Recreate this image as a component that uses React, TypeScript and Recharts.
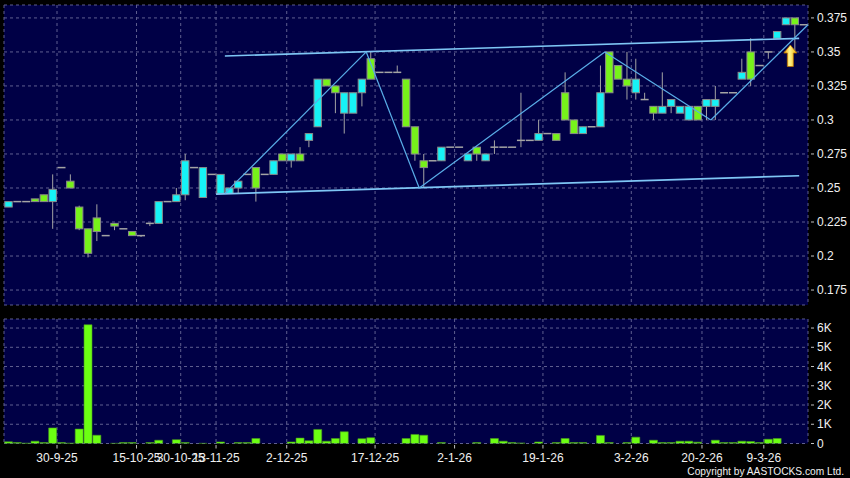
import React from 'react';
import { ComposedChart, Bar, XAxis, YAxis, CartesianGrid, ReferenceLine, ReferenceDot } from 'recharts';

// daily prices, one entry per trading slot (91 slots)
const opens = [
  0.236, 0.24, 0.24, 0.242, 0.245, 0.24, 0.265, 0.255, 0.236, 0.22,
  0.228, 0.215, 0.224, 0.22, 0.218, 0.215, 0.224, 0.224, 0.24, 0.24,
  0.245, 0.265, 0.243, 0.26, 0.246, 0.246, 0.25, 0.26, 0.265, 0.26,
  0.26, 0.275, 0.27, 0.275, 0.285, 0.295, 0.33, 0.325, 0.305, 0.305,
  0.32, 0.345, 0.335, 0.335, 0.335, 0.33, 0.295, 0.27, 0.27, 0.27,
  0.28, 0.28, 0.27, 0.28, 0.27, 0.28, 0.28, 0.28, 0.285, 0.285,
  0.285, 0.29, 0.29, 0.32, 0.3, 0.29, 0.295, 0.295, 0.35, 0.34,
  0.33, 0.32, 0.315, 0.31, 0.305, 0.31, 0.305, 0.3, 0.31, 0.31,
  0.31, 0.32, 0.32, 0.33, 0.35, 0.34, 0.35, 0.36, 0.37, 0.375,
  0.37,
];
const highs = [
  0.24, 0.24, 0.24, 0.242, 0.245, 0.26, 0.265, 0.26, 0.237, 0.22,
  0.238, 0.215, 0.224, 0.22, 0.218, 0.215, 0.224, 0.24, 0.24, 0.25,
  0.275, 0.265, 0.265, 0.26, 0.26, 0.25, 0.255, 0.26, 0.265, 0.26,
  0.27, 0.275, 0.275, 0.28, 0.29, 0.33, 0.33, 0.325, 0.32, 0.32,
  0.33, 0.35, 0.335, 0.335, 0.34, 0.33, 0.295, 0.275, 0.27, 0.28,
  0.28, 0.28, 0.275, 0.28, 0.275, 0.285, 0.28, 0.28, 0.32, 0.285,
  0.3, 0.29, 0.29, 0.335, 0.3, 0.295, 0.295, 0.34, 0.35, 0.34,
  0.35, 0.345, 0.32, 0.31, 0.335, 0.315, 0.31, 0.31, 0.31, 0.315,
  0.325, 0.32, 0.32, 0.345, 0.36, 0.34, 0.35, 0.365, 0.375, 0.375,
  0.37,
];
const lows = [
  0.236, 0.24, 0.24, 0.24, 0.24, 0.22, 0.265, 0.25, 0.219, 0.199,
  0.211, 0.215, 0.219, 0.22, 0.215, 0.214, 0.222, 0.224, 0.24, 0.24,
  0.241, 0.265, 0.243, 0.26, 0.246, 0.246, 0.246, 0.26, 0.24, 0.26,
  0.26, 0.27, 0.265, 0.27, 0.28, 0.295, 0.325, 0.305, 0.29, 0.305,
  0.31, 0.33, 0.335, 0.335, 0.335, 0.295, 0.27, 0.25, 0.27, 0.27,
  0.28, 0.28, 0.27, 0.27, 0.27, 0.275, 0.28, 0.28, 0.28, 0.285,
  0.285, 0.29, 0.285, 0.3, 0.29, 0.29, 0.295, 0.295, 0.32, 0.33,
  0.315, 0.315, 0.315, 0.3, 0.305, 0.305, 0.305, 0.3, 0.3, 0.3,
  0.3, 0.32, 0.32, 0.33, 0.325, 0.34, 0.345, 0.36, 0.37, 0.35,
  0.37,
];
const closes = [
  0.24, 0.24, 0.24, 0.24, 0.24, 0.249, 0.265, 0.25, 0.22, 0.202,
  0.218, 0.215, 0.222, 0.22, 0.215, 0.215, 0.224, 0.24, 0.24, 0.245,
  0.27, 0.265, 0.265, 0.26, 0.26, 0.25, 0.255, 0.26, 0.25, 0.26,
  0.27, 0.27, 0.275, 0.27, 0.29, 0.33, 0.325, 0.32, 0.32, 0.32,
  0.33, 0.33, 0.335, 0.335, 0.335, 0.295, 0.275, 0.265, 0.27, 0.28,
  0.28, 0.28, 0.275, 0.275, 0.275, 0.28, 0.28, 0.28, 0.285, 0.285,
  0.29, 0.29, 0.285, 0.3, 0.29, 0.295, 0.295, 0.32, 0.32, 0.33,
  0.325, 0.33, 0.315, 0.305, 0.31, 0.315, 0.31, 0.31, 0.3, 0.315,
  0.315, 0.32, 0.32, 0.335, 0.33, 0.34, 0.35, 0.365, 0.375, 0.37,
  0.37,
];
const volumes = [
  85, 50, 20, 120, 50, 810, 50, 20, 750, 6170,
  430, 0, 10, 50, 50, 0, 50, 170, 0, 200,
  50, 0, 10, 0, 80, 0, 50, 50, 260, 0,
  0, 0, 80, 280, 140, 730, 120, 260, 610, 0,
  250, 300, 0, 0, 0, 260, 470, 430, 0, 50,
  0, 0, 0, 50, 0, 260, 120, 50, 30, 0,
  80, 0, 50, 260, 50, 50, 0, 420, 50, 0,
  50, 330, 0, 170, 50, 50, 120, 120, 70, 0,
  170, 50, 50, 120, 100, 50, 220, 260, 0, 0,
  0,
];

// date ticks (slot index -> label)
const tickSlots = [6, 15, 20, 24, 32, 42, 51, 61, 71, 79, 86];
const tickLabels = ['30-9-25', '15-10-25', '30-10-25', '13-11-25', '2-12-25', '17-12-25', '2-1-26', '19-1-26', '3-2-26', '20-2-26', '9-3-26'];
const priceTicks = [0.175, 0.2, 0.225, 0.25, 0.275, 0.3, 0.325, 0.35, 0.375];
const volTicks = [0, 1000, 2000, 3000, 4000, 5000, 6000];

// drawn trend annotations (slot, price)
const zigzag = [
  { x: 25, y: 0.246 }, { x: 41, y: 0.35 }, { x: 47, y: 0.25 },
  { x: 68, y: 0.35 }, { x: 80, y: 0.3 }, { x: 91, y: 0.37 },
];
const upperChannel = [{ x: 25, y: 0.347 }, { x: 90, y: 0.36 }];
const lowerChannel = [{ x: 24, y: 0.2455 }, { x: 90, y: 0.259 }];
const arrowMark = { x: 89, y: 0.347 };

const SLOTS = opens.length;
const font = "'Liberation Sans', Arial, sans-serif";
const NAVY = '#000046';
const GRID = '#5f5f90';

const candleRows = opens.map((o, i) => ({
  d: i, o, h: highs[i], l: lows[i], c: closes[i], range: [lows[i], highs[i]],
}));
const volRows = volumes.map((v, i) => ({ d: i, v }));

function Candle(props: any) {
  const { x, y, width, height, payload } = props;
  const { o, h, l, c } = payload;
  const top = Math.min(y, y + height);
  const span = Math.abs(height);
  const cx = x + width / 2;
  if (h === l) {
    return <line x1={x + 0.5} x2={x + width - 0.5} y1={top} y2={top} stroke="#a4a4a4" strokeWidth={1.5} />;
  }
  const k = span / (h - l);
  const py = (v: number) => top + (h - v) * k;
  const wick = <line x1={cx} x2={cx} y1={top} y2={top + span} stroke="#a4a4a4" strokeWidth={1} />;
  if (o === c) {
    return (
      <g>
        {wick}
        <line x1={x + 0.5} x2={x + width - 0.5} y1={py(o)} y2={py(o)} stroke="#a4a4a4" strokeWidth={1.5} />
      </g>
    );
  }
  const bt = py(Math.max(o, c));
  const bb = py(Math.min(o, c));
  return (
    <g>
      {wick}
      <rect x={x + 0.8} y={bt} width={width - 1.6} height={bb - bt} fill={c > o ? '#16f2f6' : '#77f21a'} stroke="#8a8a8a" strokeWidth={1} />
    </g>
  );
}

function PriceTick(props: any) {
  const { x, y, payload } = props;
  return (
    <g>
      <line x1={x + 3} x2={x + 6} y1={y} y2={y} stroke="#c0c0c0" />
      <text x={x + 9} y={y + 4.2} fill="#f0f0f0" fontSize={12} fontFamily={font}>
        {String(Number(payload.value.toFixed(3)))}
      </text>
    </g>
  );
}

function VolTick(props: any) {
  const { x, y, payload } = props;
  return (
    <g>
      <line x1={x + 3} x2={x + 6} y1={y} y2={y} stroke="#c0c0c0" />
      <text x={x + 9} y={y + 4.2} fill="#f0f0f0" fontSize={12} fontFamily={font}>
        {payload.value === 0 ? '0' : `${payload.value / 1000}K`}
      </text>
    </g>
  );
}

function DateTick(props: any) {
  const { x, y, payload } = props;
  const label = tickLabels[tickSlots.indexOf(payload.value)];
  return (
    <g>
      <line x1={x} x2={x} y1={y + 1.5} y2={y + 5} stroke="#c0c0c0" />
      <text x={x} y={y + 18} textAnchor="middle" fill="#f0f0f0" fontSize={12} fontFamily={font}>
        {label}
      </text>
    </g>
  );
}

function UpArrow(props: any) {
  const { cx, cy } = props;
  const d = `M${cx},${cy - 11} L${cx + 6.5},${cy - 3} L${cx + 3},${cy - 3} L${cx + 3},${cy + 10.5} L${cx - 3},${cy + 10.5} L${cx - 3},${cy - 3} L${cx - 6.5},${cy - 3} Z`;
  return (
    <g>
      <defs>
        <linearGradient id="arrowFill" x1="0" y1="0" x2="1" y2="0">
          <stop offset="0%" stopColor="#f2a400" />
          <stop offset="45%" stopColor="#fff48c" />
          <stop offset="100%" stopColor="#f0b000" />
        </linearGradient>
      </defs>
      <path d={d} fill="url(#arrowFill)" stroke="#b87000" strokeWidth={0.8} />
    </g>
  );
}

const segments = zigzag.slice(1).map((p, i) => [zigzag[i], p]);

export default function App() {
  return (
    <div style={{ position: 'absolute', left: 0, top: 0, width: 850, height: 478, background: '#000', overflow: 'hidden' }}>
      <div style={{ position: 'absolute', left: 0, top: 0 }}>
        <ComposedChart width={850} height={310} data={candleRows} margin={{ top: 5, right: 0, bottom: 5, left: 4 }} barCategoryGap={0}>
          <CartesianGrid fill={NAVY} fillOpacity={1} stroke={GRID} strokeDasharray="3 3" />
          <XAxis dataKey="d" type="number" domain={[0, SLOTS]} ticks={tickSlots} hide allowDataOverflow />
          <XAxis xAxisId="cat" dataKey="d" type="category" hide />
          <YAxis
            orientation="right"
            domain={[0.164, 0.3845]}
            ticks={priceTicks}
            width={42}
            axisLine={false}
            tickLine={false}
            tickSize={0}
            tickMargin={0}
            interval={0}
            tick={<PriceTick />}
            allowDataOverflow
          />
          <Bar xAxisId="cat" dataKey="range" shape={Candle} isAnimationActive={false} />
          <ReferenceLine segment={upperChannel} stroke="#7ec6f5" strokeWidth={1.6} ifOverflow="visible" />
          <ReferenceLine segment={lowerChannel} stroke="#7ec6f5" strokeWidth={1.6} ifOverflow="visible" />
          {segments.map((s, i) => (
            <ReferenceLine key={i} segment={s} stroke="#5aaee8" strokeWidth={1.2} ifOverflow="visible" />
          ))}
          <ReferenceDot x={arrowMark.x} y={arrowMark.y} r={8} shape={UpArrow} ifOverflow="visible" />
        </ComposedChart>
      </div>
      <div style={{ position: 'absolute', left: 0, top: 310 }}>
        <ComposedChart width={850} height={168} data={volRows} margin={{ top: 9, right: 0, bottom: 0, left: 4 }} barCategoryGap={0.5}>
          <CartesianGrid fill={NAVY} fillOpacity={1} stroke={GRID} strokeDasharray="3 3" />
          <XAxis
            dataKey="d"
            type="number"
            domain={[0, SLOTS]}
            ticks={tickSlots}
            height={34.5}
            axisLine={false}
            tickLine={false}
            tickSize={0}
            tickMargin={0}
            interval={0}
            tick={<DateTick />}
            allowDataOverflow
          />
          <XAxis xAxisId="cat" dataKey="d" type="category" hide />
          <YAxis
            orientation="right"
            domain={[0, 6470]}
            ticks={volTicks}
            width={42}
            axisLine={false}
            tickLine={false}
            tickSize={0}
            tickMargin={0}
            interval={0}
            tick={<VolTick />}
            allowDataOverflow
          />
          <Bar xAxisId="cat" dataKey="v" fill="#6cff12" stroke="#4c9a20" strokeWidth={0.6} isAnimationActive={false} />
        </ComposedChart>
      </div>
      <svg width={850} height={478} style={{ position: 'absolute', left: 0, top: 0, pointerEvents: 'none' }}>
        <text x={844} y={475} textAnchor="end" fill="#f0f0f0" fontSize={10.2} fontFamily={font}>
          Copyright by AASTOCKS.com Ltd.
        </text>
      </svg>
    </div>
  );
}
